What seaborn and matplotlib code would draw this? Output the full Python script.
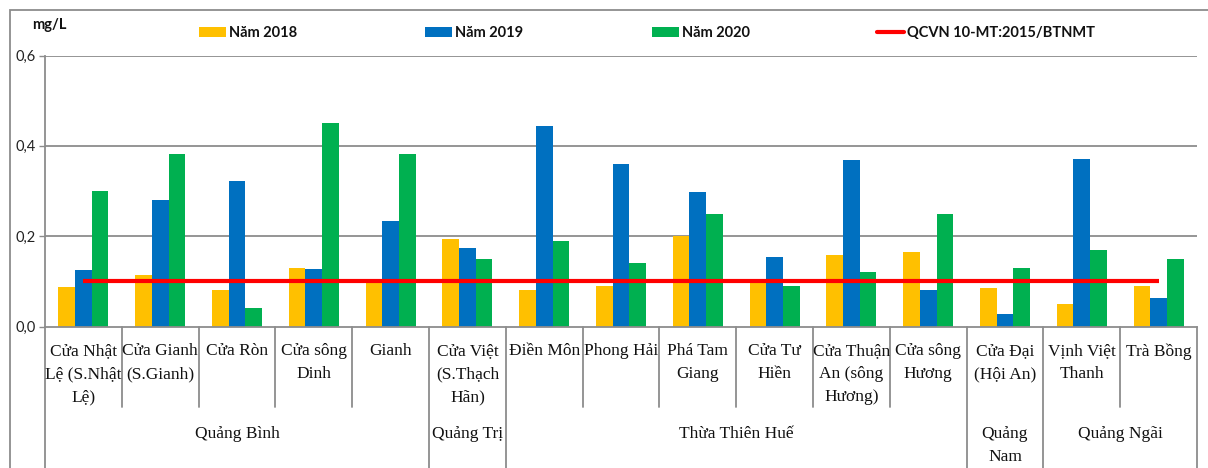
import numpy as np
import pandas as pd
import matplotlib
matplotlib.use("Agg")
import matplotlib.pyplot as plt
from matplotlib.patches import Patch, Rectangle
from matplotlib.lines import Line2D
from matplotlib import font_manager
import seaborn as sns

# ---- data -------------------------------------------------------------
sites = [
    "Cửa Nhật\nLệ (S.Nhật\nLệ)", "Cửa Gianh\n(S.Gianh)", "Cửa Ròn", "Cửa sông\nDinh",
    "Gianh", "Cửa Việt\n(S.Thạch\nHãn)", "Điền Môn", "Phong Hải", "Phá Tam\nGiang",
    "Cửa Tư\nHiền", "Cửa Thuận\nAn (sông\nHương)", "Cửa sông\nHương", "Cửa Đại\n(Hội An)",
    "Vịnh Việt\nThanh", "Trà Bồng",
]
provinces = (["Quảng Bình"] * 5 + ["Quảng Trị"] + ["Thừa Thiên Huế"] * 6
             + ["Quảng\nNam"] + ["Quảng Ngãi"] * 2)

years = ["Năm 2018", "Năm 2019", "Năm 2020"]
v2018 = [0.088, 0.114, 0.080, 0.129, 0.100, 0.193, 0.080, 0.090, 0.201, 0.100,
         0.159, 0.166, 0.086, 0.050, 0.090]
v2019 = [0.124, 0.280, 0.323, 0.127, 0.234, 0.173, 0.443, 0.359, 0.297, 0.154,
         0.369, 0.080, 0.028, 0.370, 0.063]
v2020 = [0.300, 0.381, 0.040, 0.450, 0.381, 0.150, 0.190, 0.140, 0.250, 0.090,
         0.120, 0.250, 0.130, 0.170, 0.150]
qcvn = [0.1] * len(sites)
qcvn_label = "QCVN 10-MT:2015/BTNMT"

y_ticks = [0.0, 0.2, 0.4, 0.6]
y_tick_labels = ["0,0", "0,2", "0,4", "0,6"]
unit_label = "mg/L"

colors = ["#FFC000", "#0070C0", "#00B050"]
line_color = "#FF0000"
grid_color = "#8C8C8C"

df = pd.DataFrame({
    "site": np.tile(sites, 3),
    "year": np.repeat(years, len(sites)),
    "value": v2018 + v2019 + v2020,
})

# ---- style ------------------------------------------------------------
sns.set_theme(style="white")
plt.rcParams["font.family"] = ["Lato", "DejaVu Sans"]
plt.rcParams["font.serif"] = ["Liberation Serif", "Times New Roman", "DejaVu Serif"]
serif_fp = font_manager.FontProperties(family="serif", size=12.5)
label_spacing = 1.6

W, H = 1208, 468
fig = plt.figure(figsize=(W / 100, H / 100), dpi=100)
ax = fig.add_axes([45 / W, 1 - 326.5 / H, (1197 - 45) / W, (326.5 - 55.5) / H])

sns.barplot(data=df, x="site", y="value", hue="year", order=sites,
            hue_order=years, palette=colors, width=0.65, saturation=1,
            linewidth=0, legend=False, ax=ax, zorder=2)

xs = np.arange(len(sites))
ax.plot(xs, qcvn, color=line_color, lw=3.0, solid_capstyle="butt", zorder=4)

ax.set_xlim(-0.5, len(sites) - 0.5)
ax.set_ylim(0, 0.6)
ax.set_yticks(y_ticks)
ax.set_yticklabels(y_tick_labels, fontsize=10.5, color="#222222")
ax.set_xticks([])
ax.set_xlabel("")
ax.set_ylabel("")
ax.tick_params(axis="y", left=True, length=4, width=1, color=grid_color,
               direction="out", pad=3)
for y in y_ticks[1:]:
    ax.axhline(y, color=grid_color, lw=1.3, zorder=0)
for s in ["top", "right"]:
    ax.spines[s].set_visible(False)
for s in ["left", "bottom"]:
    ax.spines[s].set_color(grid_color)
    ax.spines[s].set_linewidth(1.3)

# ---- two-level category axis -------------------------------------------
trans = ax.get_xaxis_transform()
px = 1 / (326.5 - 55.5)   # one pixel in axes-fraction units
site_bottom = -(407 - 326.5) * px
fig_bottom = -(H - 326.5) * px - 0.02

boundaries = [0]
for i in range(1, len(provinces)):
    if provinces[i] != provinces[i - 1]:
        boundaries.append(i)
boundaries.append(len(provinces))

for k in range(len(sites) + 1):
    low = fig_bottom if k in boundaries else site_bottom
    ax.plot([k - 0.5, k - 0.5], [0, low], transform=trans, clip_on=False,
            color=grid_color, lw=1.3, zorder=1)

for i, name in enumerate(sites):
    ax.text(i, -(343 - 326.5) * px, name, transform=trans, ha="center", va="top",
            fontproperties=serif_fp, linespacing=label_spacing, color="#111111")

for a, b in zip(boundaries[:-1], boundaries[1:]):
    ax.text((a + b - 1) / 2, -(426 - 326.5) * px, provinces[a], transform=trans,
            ha="center", va="top", fontproperties=serif_fp,
            linespacing=label_spacing, color="#111111")

# ---- unit label, legend and chart border --------------------------------
fig.text(32 / W, 1 - 25 / H, unit_label, fontsize=10.5, fontweight="bold",
         ha="left", va="center", color="#111111")

handles = [Patch(facecolor=c, edgecolor="none") for c in colors]
handles.append(Line2D([], [], color=line_color, lw=3.0))
labels = years + [qcvn_label]
legend_x = [199, 425, 652, 877]
for h, lab, lx in zip(handles, labels, legend_x):
    leg = fig.legend([h], [lab], loc="center left",
                     bbox_to_anchor=(lx / W, 1 - 33 / H), frameon=False,
                     fontsize=10.5, handlelength=1.85, handleheight=0.7,
                     handletextpad=0.2, borderpad=0, borderaxespad=0)
    for t in leg.get_texts():
        t.set_fontweight("bold")
        t.set_color("#111111")

fig.add_artist(Rectangle((10 / W, -0.5), 2, 1.5 - 10 / H, transform=fig.transFigure,
                         fill=False, edgecolor=grid_color, lw=1.3))

fig.savefig("out.png", dpi=100)
